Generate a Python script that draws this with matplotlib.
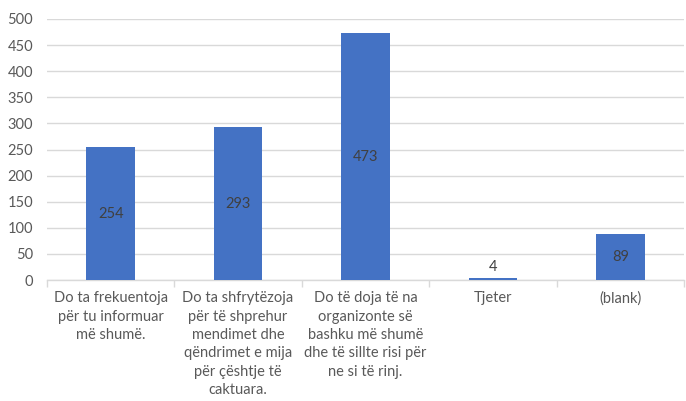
import matplotlib.pyplot as plt
import numpy as np

categories = [
    "Do ta frekuentoja\npër tu informuar\nmë shumë.",
    "Do ta shfrytëzoja\npër të shprehur\nmendimet dhe\nqëndrimet e mija\npër çështje të\ncaktuara.",
    "Do të doja të na\norganizonte së\nbashku më shumë\ndhe të sillte risi për\nne si të rinj.",
    "Tjeter",
    "(blank)",
]
values = [254, 293, 473, 4, 89]
yticks = list(range(0, 501, 50))

plt.rcParams['font.family'] = ['Lato', 'DejaVu Sans']
text_color = '#595959'
grid_color = '#d9d9d9'

fig = plt.figure(figsize=(6.86, 4.01), dpi=100)
ax = fig.add_axes([47 / 686, 1 - 280 / 401, 637 / 686, 261 / 401])

x = np.arange(len(categories))
ax.bar(x, values, width=0.38, color='#4472c4', zorder=3)

for xi, v in zip(x, values):
    ax.text(xi, max(v / 2, 25), str(v), ha='center', va='center',
            fontsize=10.5, color='#404040', zorder=4)

ax.set_xlim(-0.5, len(categories) - 0.5)
ax.set_ylim(0, 500)
ax.set_yticks(yticks)
ax.yaxis.grid(True, color=grid_color, linewidth=1, zorder=0)
ax.tick_params(axis='y', length=0, labelsize=10.5, labelcolor=text_color, pad=10)

ax.set_xticks(x)
ax.set_xticklabels(categories, fontsize=10.5, color=text_color, linespacing=1.4,
                   va='top')
ax.set_xticks(np.arange(-0.5, len(categories)), minor=True)
ax.tick_params(axis='x', which='major', length=0, pad=8)
ax.tick_params(axis='x', which='minor', length=5, color=grid_color, width=1)

for side in ['top', 'right', 'left']:
    ax.spines[side].set_visible(False)
ax.spines['bottom'].set_color(grid_color)
ax.spines['bottom'].set_linewidth(1)

fig.savefig('out.png', dpi=100)
